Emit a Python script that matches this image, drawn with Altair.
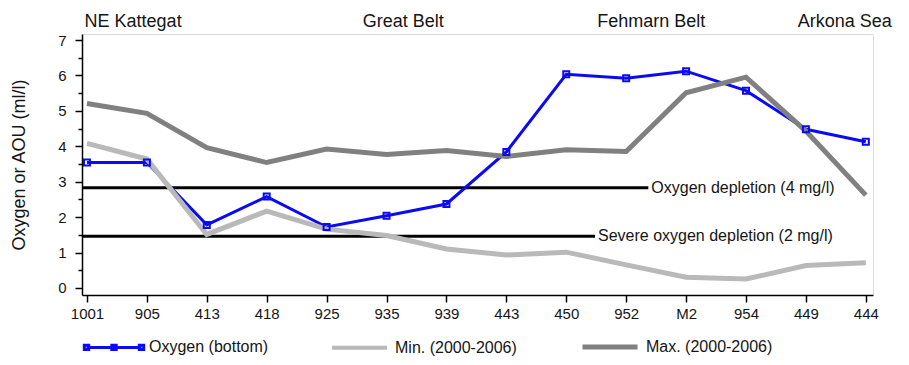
import json

import altair as alt
import pandas as pd

# Stations along the transect, west to east
STATIONS = ["1001", "905", "413", "418", "925", "935", "939",
            "443", "450", "952", "M2", "954", "449", "444"]

# Bottom-water oxygen and the 2000-2006 range (ml/l)
OXYGEN = [3.54, 3.54, 1.78, 2.58, 1.72, 2.04, 2.37,
          3.84, 6.03, 5.92, 6.12, 5.57, 4.48, 4.13]
MIN_0006 = [4.08, 3.64, 1.51, 2.17, 1.66, 1.48, 1.10,
            0.93, 1.01, 0.65, 0.30, 0.25, 0.63, 0.71]
MAX_0006 = [5.21, 4.93, 3.96, 3.54, 3.92, 3.77, 3.88,
            3.71, 3.90, 3.85, 5.51, 5.95, 4.43, 2.62]

SERIES = ["Oxygen (bottom)", "Min. (2000-2006)", "Max. (2000-2006)"]

# Depletion thresholds expressed in ml/l
THRESHOLD_LABELS = ["Oxygen depletion (4 mg/l)",
                    "Severe oxygen depletion (2 mg/l)"]
THRESHOLD_VALUES = [2.83, 1.46]

# Sea areas named above the plot
REGIONS = ["NE Kattegat", "Great Belt", "Fehmarn Belt", "Arkona Sea"]

# ---- layout / style -------------------------------------------------------
COLORS = ["#0a0af5", "#b9b9b9", "#808080"]
LINE_WIDTHS = [3, 5, 5]
REGION_X = [0.77, 5.28, 9.42, 12.65]     # station-index units
THRESHOLD_END = [9.37, 8.48]             # station-index units
X_DOMAIN = [-0.083, 13.12]
Y_DOMAIN = [-0.2, 7.17]
FONT = "Liberation Sans"
INK = "#151515"

# Legend glyphs: a line with square markers for the oxygen series, plain strokes otherwise
LEGEND_SHAPES = [
    "M-1,0H1"
    "M-1.08,-0.08h0.16v0.16h-0.16z"
    "M-0.08,-0.08h0.16v0.16h-0.16z"
    "M0.92,-0.08h0.16v0.16h-0.16z",
    "M-1,0H1",
    "M-1,0H1",
]

rows = []
for name, values in zip(SERIES, [OXYGEN, MIN_0006, MAX_0006]):
    for i, (st, v) in enumerate(zip(STATIONS, values)):
        rows.append({"idx": i, "station": st, "series": name, "value": v})
long_df = pd.DataFrame(rows)

thr_df = pd.DataFrame({
    "label": THRESHOLD_LABELS,
    "value": THRESHOLD_VALUES,
    "x0": [X_DOMAIN[0]] * len(THRESHOLD_VALUES),
    "x1": THRESHOLD_END,
})
reg_df = pd.DataFrame({"region": REGIONS, "x": REGION_X})

x_scale = alt.Scale(domain=X_DOMAIN, nice=False, zero=False)
y_scale = alt.Scale(domain=Y_DOMAIN, nice=False, zero=False)

x_axis = alt.Axis(
    title=None,
    values=list(range(len(STATIONS))),
    labelExpr=f"{json.dumps(STATIONS)}[datum.value]",
    grid=False, tickSize=7, tickWidth=1.5, tickColor="black",
    labelFontSize=15, labelPadding=4, labelColor=INK, labelFont=FONT,
    domainColor="black", domainWidth=1.5,
)
y_axis = alt.Axis(
    title="Oxygen or AOU (ml/l)",
    values=[i * 0.5 for i in range(15)],
    labelExpr="datum.value % 1 === 0 ? format(datum.value, 'd') : ''",
    tickSize={"condition": {"test": "datum.value % 1 === 0", "value": 7}, "value": 4},
    grid=False, tickWidth=1.5, tickColor="black",
    labelFontSize=15, labelPadding=9, labelColor=INK, labelFont=FONT,
    titleFontSize=18, titleFontWeight="normal", titleColor=INK, titleFont=FONT,
    titlePadding=29,
    domainColor="black", domainWidth=1.5,
)


def X(field):
    return alt.X(field, type="quantitative", scale=x_scale, axis=x_axis)


def Y(field):
    return alt.Y(field, type="quantitative", scale=y_scale, axis=y_axis)


legend = alt.Legend(
    title=None,
    orient="none",
    legendX=3,
    legendY=283,
    direction="horizontal",
    symbolSize=3025,
    labelFontSize=16,
    labelFont=FONT,
    labelColor=INK,
    labelOffset=6,
    labelLimit=0,
    columnPadding=55,
)

thr_rules = alt.Chart(thr_df).mark_rule(color="black", strokeWidth=3).encode(
    x=X("x0"), x2="x1:Q", y=Y("value"),
)
thr_text = alt.Chart(thr_df).mark_text(
    align="left", baseline="middle", dx=3, fontSize=16, font=FONT, color=INK,
).encode(x=X("x1"), y=Y("value"), text="label:N")

# one line layer per series, oxygen first so the grey ranges sit above it
line_layers = [
    alt.Chart(long_df).transform_filter(alt.datum.series == name)
    .mark_line(color=col, strokeWidth=w, strokeJoin="miter")
    .encode(x=X("idx"), y=Y("value"), order=alt.Order("idx:Q"))
    for name, col, w in zip(SERIES, COLORS, LINE_WIDTHS)
]

markers = (
    alt.Chart(long_df).transform_filter(alt.datum.series == SERIES[0])
    .mark_point(shape="square", filled=False, size=36, strokeWidth=2,
                color=COLORS[0], opacity=1)
    .encode(x=X("idx"), y=Y("value"))
)

# legend-only layer: no rows survive the filter, the scales carry the entries
legend_layer = (
    alt.Chart(long_df).transform_filter("false")
    .mark_point(filled=False, size=3025, opacity=1)
    .encode(
        x=X("idx"),
        y=Y("value"),
        color=alt.Color("series:N", scale=alt.Scale(domain=SERIES, range=COLORS),
                        legend=legend),
        shape=alt.Shape("series:N", scale=alt.Scale(domain=SERIES, range=LEGEND_SHAPES),
                        legend=legend),
        strokeWidth=alt.StrokeWidth("series:N",
                                    scale=alt.Scale(domain=SERIES, range=LINE_WIDTHS),
                                    legend=legend),
    )
)

regions = alt.Chart(reg_df).mark_text(
    align="center", baseline="alphabetic", fontSize=18, font=FONT, color=INK,
).encode(x=X("x"), y=alt.value(-7), text="region:N")

chart = alt.layer(thr_rules, thr_text, *line_layers, markers, legend_layer, regions).properties(
    width=791,
    height=261,
    padding={"left": 82, "top": 34, "right": 36, "bottom": 70},
    autosize=alt.AutoSizeParams(type="none"),
    background="white",
).configure_view(
    stroke="black", strokeWidth=1.5,
).configure(font=FONT)

chart.save("out.html", embed_options={"renderer": "svg", "actions": False})
